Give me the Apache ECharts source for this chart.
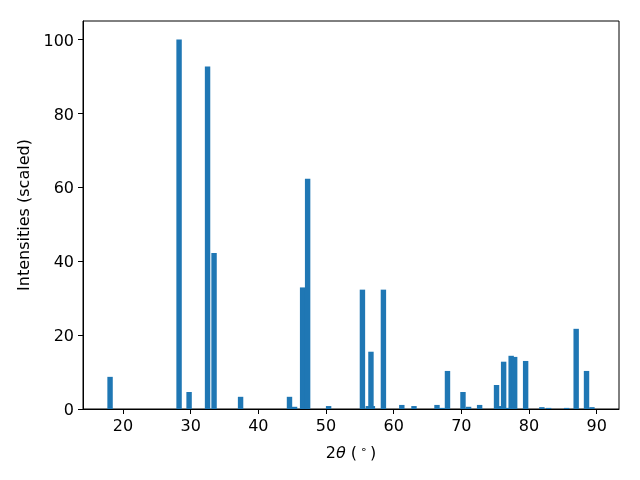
<!DOCTYPE html>
<html><head><meta charset="utf-8">
<script src="https://cdn.jsdelivr.net/npm/echarts@6/dist/echarts.min.js"></script>
<style>html,body{margin:0;padding:0;background:#fff}#c{width:640px;height:480px}</style>
</head><body><div id="c"></div>
<script>
const twoTheta = [18.08, 28.28, 29.76, 32.49, 33.45, 37.37, 44.6, 45.35, 46.54, 47.28, 50.38,
  55.38, 56.25, 56.85, 56.64, 58.48, 61.2, 63.0, 66.4, 67.15, 67.95, 70.24, 71.07, 72.7,
  75.2, 75.82, 76.85, 76.25, 77.36, 77.88, 79.5, 81.9, 82.9, 85.56, 86.97, 88.5, 89.3];
const intensity = [8.7, 100, 4.6, 92.7, 42.2, 3.3, 3.3, 0.6, 32.9, 62.3, 0.8,
  32.3, 0.8, 0.8, 15.5, 32.3, 1.1, 0.8, 1.1, 0.3, 10.3, 4.6, 0.6, 1.1,
  6.5, 0.8, 0.3, 12.8, 14.4, 14.1, 13.0, 0.5, 0.3, 0.3, 21.7, 10.3, 0.5];
const xTicks = [20, 30, 40, 50, 60, 70, 80, 90];
const yTicks = [0, 20, 40, 60, 80, 100];
const barWidth = 0.8;

const data = twoTheta.map((x, i) => [x, intensity[i]]);
const font = 'DejaVu Sans';
const chart = echarts.init(document.getElementById('c'), null, {renderer: 'canvas'});
chart.setOption({
  animation: false,
  backgroundColor: '#fff',
  grid: {left: 83, right: 21, top: 21, bottom: 71, show: true, borderColor: '#000', borderWidth: 1, backgroundColor: 'transparent'},
  xAxis: {
    type: 'value', min: 14.08, max: 93.3,
    name: '{n|2}{i|θ}{n| (}{s|∘}{n|)}', nameLocation: 'middle', nameGap: 36,
    nameTextStyle: {rich: {
      n: {fontFamily: font, fontSize: 16, color: '#000'},
      i: {fontFamily: font, fontSize: 16, fontStyle: 'italic', color: '#000'},
      s: {fontFamily: font, fontSize: 11, color: '#000', verticalAlign: 'top', padding: [0, 3, 6, 3]}
    }},
    axisLine: {onZero: false, lineStyle: {color: '#000', width: 1}},
    axisTick: {show: true, length: 5, lineStyle: {color: '#000'}, customValues: xTicks},
    axisLabel: {color: '#000', fontFamily: font, fontSize: 16, margin: 10, customValues: xTicks},
    splitLine: {show: false}
  },
  yAxis: {
    type: 'value', min: 0, max: 105,
    name: 'Intensities (scaled)', nameLocation: 'middle', nameGap: 50,
    nameTextStyle: {color: '#000', fontFamily: font, fontSize: 16},
    axisLine: {show: true, onZero: false, lineStyle: {color: '#000', width: 1}},
    axisTick: {show: true, length: 5, lineStyle: {color: '#000'}, customValues: yTicks},
    axisLabel: {
      color: '#000', fontFamily: font, fontSize: 16, margin: 9, customValues: yTicks,
      formatter: '{a|{value}}',
      rich: {a: {color: '#000', fontFamily: font, fontSize: 16, padding: [4, 0, 0, 0]}}
    },
    splitLine: {show: false}
  },
  series: [{
    type: 'custom',
    data: data,
    encode: {x: 0, y: 1},
    renderItem: function (params, api) {
      const x = api.value(0), y = api.value(1);
      const p1 = api.coord([x - barWidth / 2, y]);
      const p2 = api.coord([x + barWidth / 2, 0]);
      return {
        type: 'rect',
        shape: {x: p1[0], y: p1[1], width: p2[0] - p1[0], height: p2[1] - p1[1]},
        style: {fill: '#1f77b4'}
      };
    }
  }]
});
</script></body></html>
